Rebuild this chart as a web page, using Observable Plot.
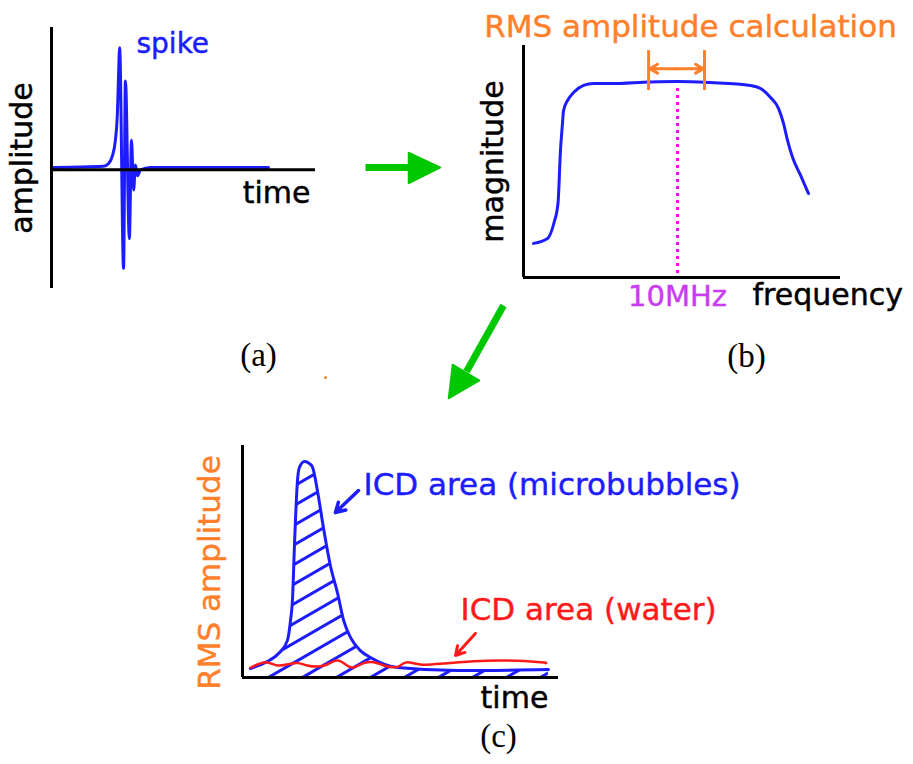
<!DOCTYPE html>
<html>
<head>
<meta charset="utf-8">
<script src="https://cdn.jsdelivr.net/npm/d3@7"></script>
<script src="https://cdn.jsdelivr.net/npm/@observablehq/plot@0.6"></script>
<style>
  body { margin: 0; background: #fff; }
  #wrap { position: relative; width: 913px; height: 764px; overflow: hidden; background: #fff; }
  #wrap svg { position: absolute; overflow: visible; }
</style>
</head>
<body>
<div id="wrap"></div>
<script>
// ---------- Panel (a): spike in the time domain ----------
const spikeTime = [0.08, 1.97, 2.16, 2.31, 2.42, 2.50, 2.54, 2.58, 2.73, 2.80, 2.95, 3.03, 3.11, 3.18, 3.26, 3.37, 3.75, 8.22];
const spikeAmp  = [0.02, 0.03, 0.054, 0.12, 0.25, 0.50, 0.80, 1.03, -0.83, 0.75, -0.58, 0.25, -0.17, 0.04, -0.05, 0.00, 0.02, 0.02];

// ---------- Panel (b): frequency spectrum ----------
const freqMHz   = [0.65, 1.56, 1.98, 2.24, 2.40, 2.53, 2.60, 2.86, 3.25, 3.90, 4.55, 5.65, 8.25, 10.0, 12.14, 14.74, 15.39, 16.04, 16.56, 16.88, 17.14, 17.47, 17.99, 18.50];
const magnitude = [0.147, 0.168, 0.236, 0.320, 0.547, 0.664, 0.720, 0.763, 0.797, 0.828, 0.836, 0.836, 0.843, 0.845, 0.840, 0.828, 0.815, 0.776, 0.728, 0.664, 0.591, 0.517, 0.440, 0.362];
const centerFreq = 10;               // 10MHz
const rmsBand = [8.12, 11.75];       // RMS amplitude calculation band (MHz)

// ---------- Panel (c): RMS amplitude over time ----------
const bubbleTime = [0.25, 0.73, 1.14, 1.42, 1.52, 1.58, 1.65, 1.74, 1.80, 1.96, 2.12, 2.22, 2.37, 2.56, 2.78, 3.01, 3.20, 3.42, 3.73, 4.05, 4.91, 6.80, 9.68];
const bubbleRms  = [0.039, 0.065, 0.103, 0.159, 0.246, 0.332, 0.590, 0.849, 0.905, 0.931, 0.922, 0.905, 0.806, 0.647, 0.483, 0.362, 0.246, 0.172, 0.116, 0.086, 0.043, 0.030, 0.034];
const waterTime  = [0.25, 0.73, 1.10, 1.52, 1.78, 2.05, 2.36, 2.68, 3.00, 3.31, 3.52, 3.84, 4.16, 4.47, 4.79, 5.00, 5.21, 5.63, 6.27, 7.32, 8.38, 9.43, 9.59];
const waterRms   = [0.042, 0.066, 0.052, 0.059, 0.062, 0.052, 0.047, 0.056, 0.073, 0.052, 0.044, 0.062, 0.066, 0.052, 0.044, 0.052, 0.066, 0.056, 0.059, 0.070, 0.073, 0.066, 0.062];

// ---------- Labels ----------
const labelsA = { spike: "spike", x: "time", y: "amplitude", tag: "(a)" };
const labelsB = { title: "RMS amplitude calculation", x: "frequency", y: "magnitude", center: "10MHz", tag: "(b)" };
const labelsC = { bubbles: "ICD area (microbubbles)", water: "ICD area (water)", x: "time", y: "RMS amplitude", tag: "(c)" };

// ---------- Connector arrows between panels (page layout units) ----------
const flowShafts = [
  { x1: 365, y1: 167, x2: 410, y2: 167 },
  { x1: 503, y1: 305, x2: 466, y2: 371 }
];
const flowHeads = [
  { id: 1, x: 408, y: 152 }, { id: 1, x: 440, y: 167 }, { id: 1, x: 408, y: 183 }, { id: 1, x: 408, y: 152 },
  { id: 2, x: 452, y: 364 }, { id: 2, x: 448, y: 398 }, { id: 2, x: 479, y: 380 }, { id: 2, x: 452, y: 364 }
];
const strayMark = [{ x: 325, y: 377 }];

// ---------- Styling ----------
const BLUE = "#1c1cff", RED = "#ff1a1a", ORANGE = "#ff7f2a", MAGENTA = "#ff00ff",
      PURPLE = "#c93cf2", GREEN = "#00c800", BLACK = "#000";
const SANS = "DejaVu Sans", SERIF = "Liberation Serif";
const baseStyle = { overflow: "visible", background: "transparent", fontFamily: SANS };
const bold = c => ({ fill: c, stroke: c, strokeWidth: 0.45 });

const spike = spikeTime.map((t, i) => ({ t, a: spikeAmp[i] }));
const spectrum = freqMHz.map((f, i) => ({ f, m: magnitude[i] }));
const bubbles = bubbleTime.map((t, i) => ({ t, r: bubbleRms[i] }));
const water = waterTime.map((t, i) => ({ t, r: waterRms[i] }));
const T = d => d;

const wrap = document.getElementById("wrap");
function place(svg, left, top) { svg.style.left = left + "px"; svg.style.top = top + "px"; wrap.appendChild(svg); }

// Panel (a)
const A = Plot.plot({
  width: 330, height: 380, marginLeft: 51, marginRight: 15, marginTop: 27, marginBottom: 92,
  x: { domain: [0, 10], axis: null }, y: { domain: [-1, 1.2], axis: null },
  style: baseStyle,
  marks: [
    Plot.line(spike, { x: "t", y: "a", stroke: BLUE, strokeWidth: 3, curve: "monotone-x" }),
    Plot.ruleX([0], { y1: -1, y2: 1.2, stroke: BLACK, strokeWidth: 3 }),
    Plot.ruleY([0], { x1: 0, x2: 10, stroke: BLACK, strokeWidth: 3 }),
    Plot.text([labelsA.spike], { text: T, x: 3.22, y: 1.057, textAnchor: "start", lineAnchor: "middle", ...bold(BLUE), fontSize: 28 }),
    Plot.text([labelsA.x], { text: T, x: 9.81, y: -0.20, textAnchor: "end", lineAnchor: "middle", ...bold(BLACK), fontSize: 30 }),
    Plot.text([labelsA.y], { text: T, frameAnchor: "left", dx: -29, rotate: -90, textAnchor: "middle", lineAnchor: "middle", ...bold(BLACK), fontSize: 30 }),
    Plot.text([labelsA.tag], { text: T, x: 7.84, frameAnchor: "bottom", dy: 67, textAnchor: "middle", lineAnchor: "middle", fill: BLACK, fontSize: 33, fontFamily: SERIF })
  ]
});
place(A, 0, 0);

// Panel (b)
const B = Plot.plot({
  width: 443, height: 380, marginLeft: 53, marginRight: 73, marginTop: 45, marginBottom: 103,
  x: { domain: [0, 20.58], axis: null }, y: { domain: [0, 1], axis: null },
  style: baseStyle,
  marks: [
    Plot.ruleX([centerFreq], { y1: 0.017, y2: 0.828, stroke: MAGENTA, strokeWidth: 3, strokeDasharray: "3,4" }),
    Plot.line(spectrum, { x: "f", y: "m", stroke: BLUE, strokeWidth: 3, curve: "monotone-x" }),
    Plot.ruleX([0], { y1: 0, y2: 1, stroke: BLACK, strokeWidth: 3 }),
    Plot.ruleY([0], { x1: 0, x2: 20.58, stroke: BLACK, strokeWidth: 3 }),
    Plot.ruleX(rmsBand, { y1: 0.806, y2: 0.978, stroke: ORANGE, strokeWidth: 3 }),
    Plot.arrow(rmsBand, { x1: (rmsBand[0] + rmsBand[1]) / 2, x2: d => d + (d < centerFreq ? 0.08 : -0.08), y1: 0.9, y2: 0.9, stroke: ORANGE, strokeWidth: 3, headLength: 13 }),
    Plot.text([labelsB.title], { text: T, x: 10.84, frameAnchor: "top", dy: -18, textAnchor: "middle", lineAnchor: "middle", ...bold(ORANGE), fontSize: 31 }),
    Plot.text([labelsB.y], { text: T, frameAnchor: "left", dx: -30, rotate: -90, textAnchor: "middle", lineAnchor: "middle", ...bold(BLACK), fontSize: 30 }),
    Plot.text([labelsB.center], { text: T, x: centerFreq, frameAnchor: "bottom", dy: 19, textAnchor: "middle", lineAnchor: "middle", ...bold(PURPLE), fontSize: 29 }),
    Plot.text([labelsB.x], { text: T, x: 14.87, frameAnchor: "bottom", dy: 18, textAnchor: "start", lineAnchor: "middle", ...bold(BLACK), fontSize: 30 }),
    Plot.text([labelsB.tag], { text: T, x: 14.48, frameAnchor: "bottom", dy: 79, textAnchor: "middle", lineAnchor: "middle", fill: BLACK, fontSize: 33, fontFamily: SERIF })
  ]
});
place(B, 470, 0);

// Panel (c)
const C = Plot.plot({
  width: 600, height: 334, marginLeft: 72, marginRight: 212, marginTop: 15, marginBottom: 87,
  x: { domain: [0, 10], axis: null }, y: { domain: [0, 1], axis: null },
  style: baseStyle,
  marks: [
    Plot.areaY(bubbles, { x: "t", y: "r", fill: "url(#hatch)", curve: "monotone-x" }),
    Plot.line(bubbles, { x: "t", y: "r", stroke: BLUE, strokeWidth: 3, curve: "monotone-x" }),
    Plot.line(water, { x: "t", y: "r", stroke: RED, strokeWidth: 2.5, curve: "natural" }),
    Plot.ruleX([0], { y1: 0, y2: 1, stroke: BLACK, strokeWidth: 3 }),
    Plot.ruleY([0], { x1: 0, x2: 10, stroke: BLACK, strokeWidth: 3 }),
    Plot.arrow([0], { x1: 3.67, y1: 0.806, x2: 2.94, y2: 0.711, stroke: BLUE, strokeWidth: 3.5, headLength: 14 }),
    Plot.arrow([0], { x1: 7.37, y1: 0.19, x2: 6.74, y2: 0.095, stroke: RED, strokeWidth: 3, headLength: 13 }),
    Plot.text([labelsC.bubbles], { text: T, x: 3.83, y: 0.828, textAnchor: "start", lineAnchor: "middle", ...bold(BLUE), fontSize: 31 }),
    Plot.text([labelsC.water], { text: T, x: 6.9, y: 0.289, textAnchor: "start", lineAnchor: "middle", ...bold(RED), fontSize: 31 }),
    Plot.text([labelsC.y], { text: T, frameAnchor: "left", dx: -32, dy: 11, rotate: -90, textAnchor: "middle", lineAnchor: "middle", ...bold(ORANGE), fontSize: 31 }),
    Plot.text([labelsC.x], { text: T, x: 9.68, frameAnchor: "bottom", dy: 21, textAnchor: "end", lineAnchor: "middle", ...bold(BLACK), fontSize: 30 }),
    Plot.text([labelsC.tag], { text: T, x: 8.1, frameAnchor: "bottom", dy: 59, textAnchor: "middle", lineAnchor: "middle", fill: BLACK, fontSize: 33, fontFamily: SERIF })
  ]
});
const defs = d3.select(C).insert("defs", ":first-child");
defs.append("pattern")
  .attr("id", "hatch").attr("patternUnits", "userSpaceOnUse")
  .attr("width", 17).attr("height", 17).attr("patternTransform", "rotate(-30)")
  .append("line").attr("x1", -1).attr("x2", 18).attr("y1", 8.5).attr("y2", 8.5)
  .attr("stroke", BLUE).attr("stroke-width", 3);
place(C, 170, 430);

// Overlay: green flow arrows
const O = Plot.plot({
  width: 913, height: 764, margin: 0,
  x: { domain: [0, 913], range: [0, 913], axis: null },
  y: { domain: [0, 764], range: [0, 764], axis: null },
  style: { overflow: "visible", background: "transparent" },
  marks: [
    Plot.link(flowShafts, { x1: "x1", y1: "y1", x2: "x2", y2: "y2", stroke: GREEN, strokeWidth: 7 }),
    Plot.line(flowHeads, { x: "x", y: "y", z: "id", fill: GREEN, stroke: GREEN, strokeWidth: 1.5 }),
    Plot.dot(strayMark, { x: "x", y: "y", r: 1.5, fill: ORANGE, stroke: null })
  ]
});
place(O, 0, 0);
</script>
</body>
</html>
